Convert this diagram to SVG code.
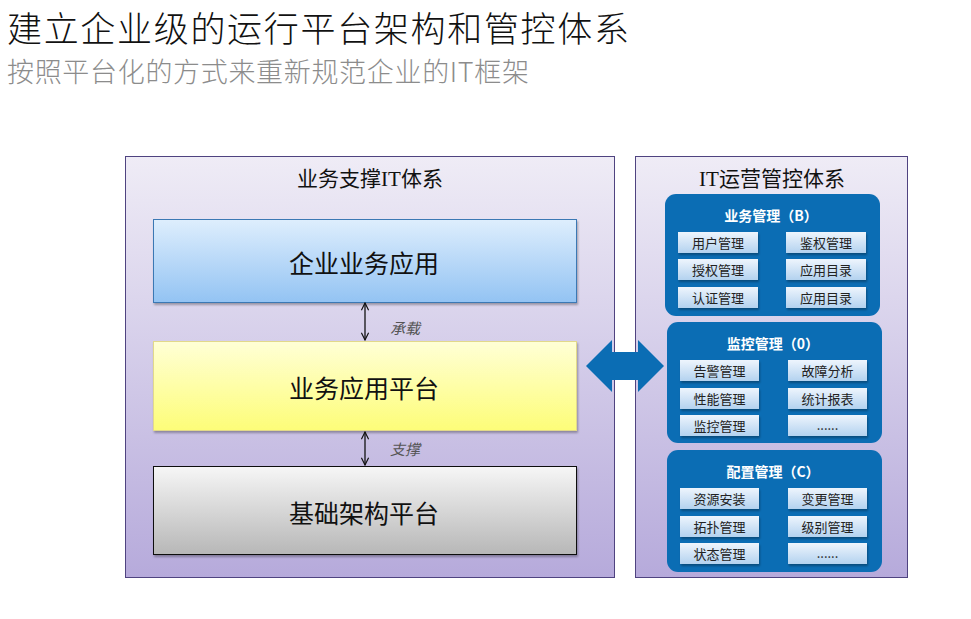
<svg xmlns="http://www.w3.org/2000/svg" width="971" height="619" viewBox="0 0 971 619">
<defs>
<linearGradient id="gPanel" x1="0" y1="0" x2="0" y2="1"><stop offset="0" stop-color="#efecf6"/><stop offset="1" stop-color="#b6aadb"/></linearGradient>
<linearGradient id="gBlue" x1="0" y1="0" x2="0" y2="1"><stop offset="0" stop-color="#deeefd"/><stop offset="1" stop-color="#93c3f3"/></linearGradient>
<linearGradient id="gYellow" x1="0" y1="0" x2="0" y2="1"><stop offset="0" stop-color="#ffffd6"/><stop offset="1" stop-color="#fdfd78"/></linearGradient>
<linearGradient id="gGrey" x1="0" y1="0" x2="0" y2="1"><stop offset="0" stop-color="#f6f6f6"/><stop offset="1" stop-color="#b7b7b7"/></linearGradient>
<linearGradient id="gItem" x1="0" y1="0" x2="0" y2="1"><stop offset="0" stop-color="#eef5fd"/><stop offset="1" stop-color="#b3d2ef"/></linearGradient>
<marker id="ah" viewBox="0 0 10 10" refX="9" refY="5" markerWidth="9" markerHeight="9" orient="auto-start-reverse" markerUnits="userSpaceOnUse"><path d="M1,1 L9,5 L1,9" fill="none" stroke="#111" stroke-width="1.3"/></marker>
<filter id="sh" x="-5%" y="-10%" width="110%" height="130%"><feDropShadow dx="1" dy="2" stdDeviation="1.2" flood-color="#000" flood-opacity="0.3"/></filter>
</defs>
<style>
text{font-family:"Noto Sans CJK SC","Microsoft YaHei",sans-serif;}
.title{font-size:35px;font-weight:300;fill:#111;}
.sub{font-size:27px;font-weight:300;fill:#8c8c8c;}
.panel{fill:url(#gPanel);stroke:#4f4380;stroke-width:1;}
.ptitle{font-size:21px;fill:#111;text-anchor:middle;}
.serif{font-family:"Liberation Serif",serif;}
.big{font-size:25px;fill:#111;text-anchor:middle;dominant-baseline:central;}
.lbl{font-size:15px;fill:#555;font-style:italic;}
.grp{fill:#0b6db4;}
.gtitle{font-size:14px;font-weight:bold;fill:#fff;text-anchor:middle;dominant-baseline:central;}
.item{fill:url(#gItem);filter:url(#sh);}
.itext{font-size:13px;fill:#222;text-anchor:middle;dominant-baseline:central;}
.conn{stroke:#111;stroke-width:1.3;fill:none;marker-start:url(#ah);marker-end:url(#ah);}
</style>
<rect width="971" height="619" fill="#ffffff"/>
<text class="title" x="7" y="42" textLength="622">建立企业级的运行平台架构和管控体系</text>
<text class="sub" x="7" y="82" textLength="522">按照平台化的方式来重新规范企业的IT框架</text>

<g id="panel-left">
<rect class="panel" x="125.5" y="156.5" width="489" height="421"/>
<text class="ptitle" x="370" y="186">业务支撑<tspan class="serif">IT</tspan>体系</text>
</g>
<g id="panel-right">
<rect class="panel" x="635.5" y="156.5" width="272" height="421"/>
<text class="ptitle" x="772" y="186"><tspan class="serif">IT</tspan>运营管控体系</text>
</g>

<g id="box-app">
<rect x="153.5" y="219.5" width="423" height="83" fill="url(#gBlue)" stroke="#3b78b4" filter="url(#sh)"/>
<text class="big" x="364" y="262">企业业务应用</text>
</g>
<g id="box-platform">
<rect x="153.5" y="341.5" width="423" height="89" fill="url(#gYellow)" stroke="#e2d98a" filter="url(#sh)"/>
<text class="big" x="364" y="387">业务应用平台</text>
</g>
<g id="box-infra">
<rect x="153.5" y="466.5" width="423" height="88" fill="url(#gGrey)" stroke="#111" filter="url(#sh)"/>
<text class="big" x="364" y="512">基础架构平台</text>
</g>

<g id="connectors">
<line class="conn" x1="365" y1="303" x2="365" y2="340"/>
<text class="lbl" x="390" y="334">承载</text>
<line class="conn" x1="365" y1="432" x2="365" y2="465"/>
<text class="lbl" x="390" y="455">支撑</text>
<path d="M586,366 L612,340 L612,352 L638,352 L638,340 L664,366 L638,392 L638,380 L612,380 L612,392 Z" fill="#0b6db4"/>
</g>

<g id="grp-b">
<rect class="grp" x="665" y="194" width="215" height="122" rx="11"/>
<text class="gtitle" x="771" y="215">业务管理（B）</text>
<rect class="item" x="678" y="232" width="80" height="21"/><text class="itext" x="718" y="242.5">用户管理</text>
<rect class="item" x="786" y="232" width="80" height="21"/><text class="itext" x="826" y="242.5">鉴权管理</text>
<rect class="item" x="678" y="259" width="80" height="21"/><text class="itext" x="718" y="269.5">授权管理</text>
<rect class="item" x="786" y="259" width="80" height="21"/><text class="itext" x="826" y="269.5">应用目录</text>
<rect class="item" x="678" y="287" width="80" height="21"/><text class="itext" x="718" y="297.5">认证管理</text>
<rect class="item" x="786" y="287" width="80" height="21"/><text class="itext" x="826" y="297.5">应用目录</text>
</g>

<g id="grp-o">
<rect class="grp" x="667" y="322" width="215" height="121" rx="11"/>
<text class="gtitle" x="773" y="343">监控管理（0）</text>
<rect class="item" x="680" y="360" width="79" height="21"/><text class="itext" x="719.5" y="370.5">告警管理</text>
<rect class="item" x="788" y="360" width="79" height="21"/><text class="itext" x="827.5" y="370.5">故障分析</text>
<rect class="item" x="680" y="388" width="79" height="21"/><text class="itext" x="719.5" y="398.5">性能管理</text>
<rect class="item" x="788" y="388" width="79" height="21"/><text class="itext" x="827.5" y="398.5">统计报表</text>
<rect class="item" x="680" y="415" width="79" height="21"/><text class="itext" x="719.5" y="425.5">监控管理</text>
<rect class="item" x="788" y="415" width="79" height="21"/><text class="itext" x="827.5" y="424">......</text>
</g>

<g id="grp-c">
<rect class="grp" x="667" y="450" width="215" height="122" rx="11"/>
<text class="gtitle" x="773" y="471">配置管理（C）</text>
<rect class="item" x="680" y="488" width="79" height="21"/><text class="itext" x="719.5" y="498.5">资源安装</text>
<rect class="item" x="788" y="488" width="79" height="21"/><text class="itext" x="827.5" y="498.5">变更管理</text>
<rect class="item" x="680" y="516" width="79" height="21"/><text class="itext" x="719.5" y="526.5">拓扑管理</text>
<rect class="item" x="788" y="516" width="79" height="21"/><text class="itext" x="827.5" y="526.5">级别管理</text>
<rect class="item" x="680" y="543" width="79" height="21"/><text class="itext" x="719.5" y="553.5">状态管理</text>
<rect class="item" x="788" y="543" width="79" height="21"/><text class="itext" x="827.5" y="552">......</text>
</g>
</svg>
